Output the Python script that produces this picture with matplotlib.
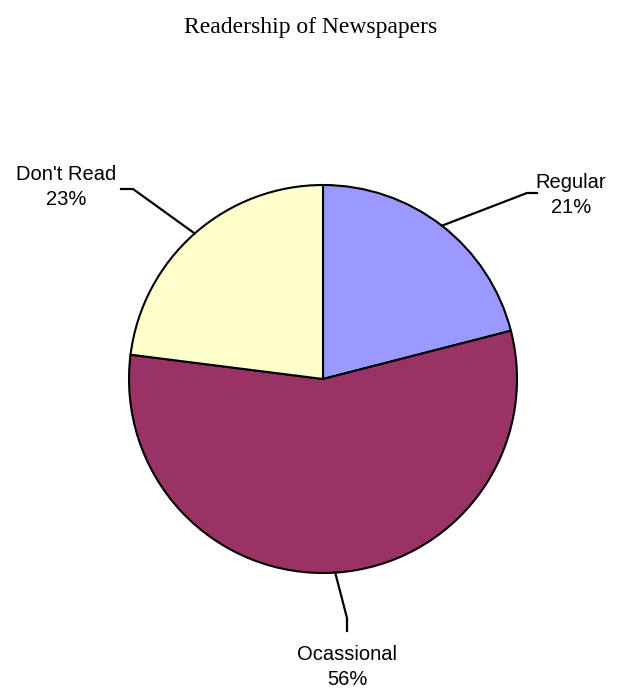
import numpy as np
import matplotlib.pyplot as plt

categories = ['Regular', 'Ocassional', "Don't Read"]
shares = [21, 56, 23]
colors = ['#9999FF', '#993366', '#FFFFCC']

W, H = 622, 691
fig = plt.figure(figsize=(W / 100, H / 100), dpi=100)
ax = fig.add_axes([0, 0, 1, 1])

cx, cy, r = 323, H - 379, 194
wedges, _ = ax.pie(shares, colors=colors, startangle=90, counterclock=False,
                   center=(cx, cy), radius=r, frame=True,
                   wedgeprops=dict(edgecolor='black', linewidth=1.5))
ax.set_xlim(0, W)
ax.set_ylim(0, H)
ax.set_aspect('equal')
ax.axis('off')

fig.text(0.5, 1 - 28 / H, 'Readership of Newspapers', ha='center', va='center',
         family='Liberation Serif', fontsize=17)

# label text centre, elbow point, line end (pixel coords from the top)
label_pos = [(571, 195), (347, 667), (66, 187)]
elbows = [((527, 193), (537, 193)), ((347, 618), (347, 631)), ((133, 189), (121, 189))]

for w, name, val, (lx, ly), (e1, e2) in zip(wedges, categories, shares, label_pos, elbows):
    mid = np.deg2rad((w.theta1 + w.theta2) / 2)
    px, py = cx + r * np.cos(mid), cy + r * np.sin(mid)
    ax.plot([px, e1[0], e2[0]], [py, H - e1[1], H - e2[1]], color='black', lw=1.6)
    ax.text(lx, H - ly, f'{name}\n{val}%', ha='center', va='center',
            family='Liberation Sans', fontsize=14.5, linespacing=1.42)

fig.savefig('out.png', dpi=100)
